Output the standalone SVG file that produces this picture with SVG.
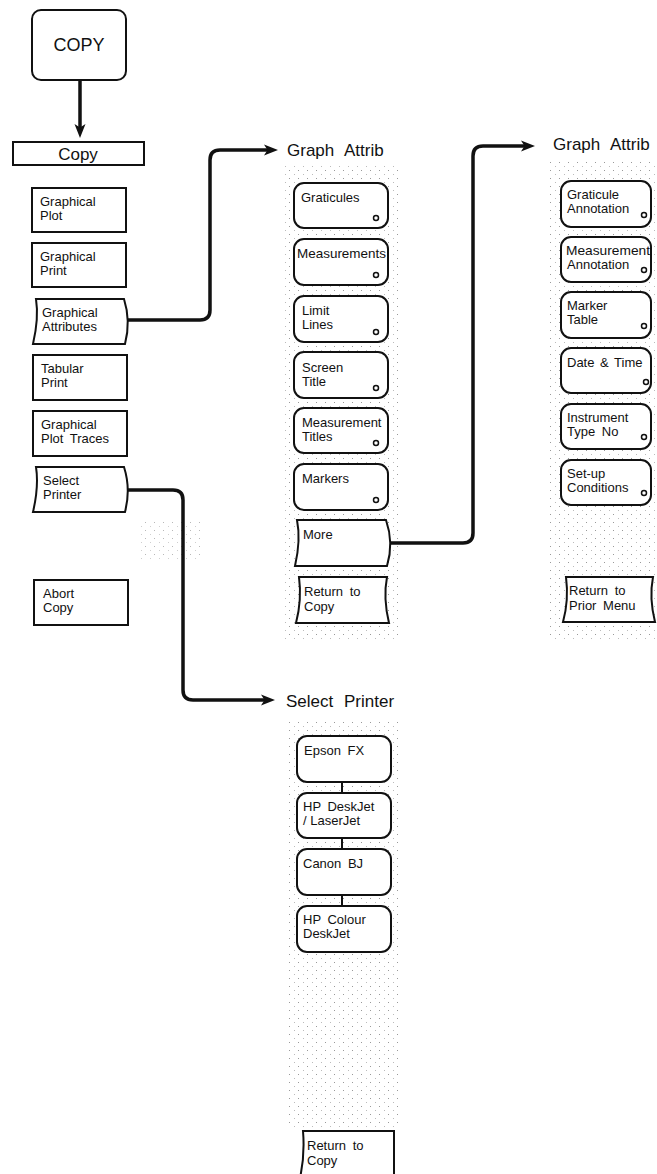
<svg xmlns="http://www.w3.org/2000/svg" width="657" height="1174" viewBox="0 0 657 1174">
<style>
text{font-family:"Liberation Sans",Arial,sans-serif;fill:#111}
.t{font-size:13px}
.h{font-size:17px;word-spacing:6px}
.box{fill:#fff;stroke:#111;stroke-width:2}
.dot{fill:#fff;stroke:#111;stroke-width:1.5}
.con{fill:none;stroke:#111;stroke-width:3.5;stroke-linejoin:round}
.link{stroke:#111;stroke-width:2}
.shade{fill:url(#stip)}
</style>
<defs>
<pattern id="stip" width="9" height="8" patternUnits="userSpaceOnUse">
<rect x="1" y="2" width="1" height="1" fill="#999"/>
<rect x="6" y="6" width="1" height="1" fill="#bbb"/>
</pattern>
<marker id="arr" markerUnits="userSpaceOnUse" markerWidth="16" markerHeight="12" refX="6" refY="6" orient="auto">
<path d="M0,0.5 L14,6 L0,11.5 L3.5,6 Z" fill="#111"/>
</marker>
</defs>
<rect width="657" height="1174" fill="#fff"/>
<g id="shading">
<rect class="shade" x="282" y="165" width="118" height="475"/>
<rect class="shade" x="548" y="160" width="109" height="480"/>
<rect class="shade" x="550" y="510" width="105" height="60" opacity="0.9"/>
<rect class="shade" x="286" y="722" width="114" height="405"/>
<rect class="shade" x="140" y="520" width="60" height="40" opacity="0.7"/>
</g>
<g id="connectors">
<path class="con" d="M80,80 V130" marker-end="url(#arr)"/>
<path class="con" d="M128,320 H200 Q210,320 210,310 V160 Q210,150 220,150 H270" marker-end="url(#arr)"/>
<path class="con" d="M391,543 H463 Q473,543 473,533 V156 Q473,146 483,146 H527" marker-end="url(#arr)"/>
<path class="con" d="M128,490 H173 Q183,490 183,500 V690 Q183,700 193,700 H267" marker-end="url(#arr)"/>
<line class="link" x1="342" y1="782" x2="342" y2="793"/>
<line class="link" x1="342" y1="838" x2="342" y2="849"/>
<line class="link" x1="342" y1="895" x2="342" y2="906"/>
</g>
<g id="n-copy-key"><rect class="box" x="32" y="10" width="94" height="70" rx="9"/><text x="79" y="51" font-size="18" text-anchor="middle">COPY</text></g>
<g id="n-copy-menu"><rect class="box" x="13" y="142" width="131" height="23"/><text x="78" y="160" font-size="17" text-anchor="middle">Copy</text></g>
<g id="n-graphical-plot"><rect class="box" x="32" y="188" width="94" height="44"/><text class="t" x="40" y="206">Graphical</text><text class="t" x="40" y="220">Plot</text></g>
<g id="n-graphical-print"><rect class="box" x="32" y="243" width="94" height="44"/><text class="t" x="40" y="261">Graphical</text><text class="t" x="40" y="275">Print</text></g>
<g id="n-graphical-attributes"><path class="box" d="M36,299 H124 Q131,321 125,344 H33 Q39,318 36,299 Z"/><text class="t" x="42" y="317">Graphical</text><text class="t" x="42" y="331">Attributes</text></g>
<g id="n-tabular-print"><rect class="box" x="33" y="355" width="94" height="45"/><text class="t" x="41" y="373">Tabular</text><text class="t" x="41" y="387">Print</text></g>
<g id="n-graphical-plot-traces"><rect class="box" x="33" y="411" width="94" height="45"/><text class="t" x="41" y="429">Graphical</text><text class="t" x="41" y="443" word-spacing="3">Plot Traces</text></g>
<g id="n-select-printer"><path class="box" d="M36,467 H124 Q131,489 125,512 H33 Q39,486 36,467 Z"/><text class="t" x="43" y="485">Select</text><text class="t" x="43" y="499">Printer</text></g>
<g id="n-abort-copy"><rect class="box" x="34" y="580" width="94" height="45"/><text class="t" x="43" y="598">Abort</text><text class="t" x="43" y="612">Copy</text></g>

<text class="h" x="287" y="156">Graph Attrib</text>
<g id="n-graticules"><rect class="box" x="294" y="183" width="94" height="45" rx="10"/><text class="t" x="301" y="202">Graticules</text><circle class="dot" cx="376" cy="218" r="2.5"/></g>
<g id="n-measurements"><rect class="box" x="294" y="239" width="94" height="46" rx="10"/><text class="t" x="297" y="258" textLength="89" lengthAdjust="spacingAndGlyphs">Measurements</text><circle class="dot" cx="376" cy="275" r="2.5"/></g>
<g id="n-limit-lines"><rect class="box" x="294" y="296" width="94" height="46" rx="10"/><text class="t" x="302" y="315">Limit</text><text class="t" x="302" y="329">Lines</text><circle class="dot" cx="376" cy="332" r="2.5"/></g>
<g id="n-screen-title"><rect class="box" x="294" y="352" width="94" height="46" rx="10"/><text class="t" x="302" y="372">Screen</text><text class="t" x="302" y="386">Title</text><circle class="dot" cx="376" cy="388" r="2.5"/></g>
<g id="n-measurement-titles"><rect class="box" x="294" y="408" width="94" height="45" rx="10"/><text class="t" x="302" y="427">Measurement</text><text class="t" x="302" y="441">Titles</text><circle class="dot" cx="376" cy="443" r="2.5"/></g>
<g id="n-markers"><rect class="box" x="294" y="464" width="94" height="46" rx="10"/><text class="t" x="302" y="483">Markers</text><circle class="dot" cx="376" cy="500" r="2.5"/></g>
<g id="n-more"><path class="box" d="M297,520 H386 Q394,543 387,566 H295 Q301,540 297,520 Z"/><text class="t" x="303" y="539">More</text></g>
<g id="n-return-copy-1"><path class="box" d="M299,577 H387 Q383,598 389,623 H296 Q302,600 299,577 Z"/><text class="t" x="304" y="596" word-spacing="3">Return to</text><text class="t" x="304" y="611">Copy</text></g>

<text class="h" x="553" y="150">Graph Attrib</text>
<g id="n-graticule-annotation"><rect class="box" x="561" y="181" width="90" height="46" rx="10"/><text class="t" x="567" y="199">Graticule</text><text class="t" x="567" y="213">Annotation</text><circle class="dot" cx="644" cy="215" r="2.5"/></g>
<g id="n-measurement-annotation"><rect class="box" x="561" y="237" width="90" height="45" rx="10"/><text class="t" x="566" y="255" textLength="84" lengthAdjust="spacingAndGlyphs">Measurement</text><text class="t" x="567" y="269">Annotation</text><circle class="dot" cx="644" cy="270" r="2.5"/></g>
<g id="n-marker-table"><rect class="box" x="561" y="292" width="90" height="46" rx="10"/><text class="t" x="567" y="310">Marker</text><text class="t" x="567" y="324">Table</text><circle class="dot" cx="644" cy="326" r="2.5"/></g>
<g id="n-date-time"><rect class="box" x="561" y="348" width="90" height="45" rx="10"/><text class="t" x="567" y="367" word-spacing="2">Date &amp; Time</text><circle class="dot" cx="646" cy="382" r="2.5"/></g>
<g id="n-instrument-type"><rect class="box" x="561" y="404" width="90" height="45" rx="10"/><text class="t" x="567" y="422">Instrument</text><text class="t" x="567" y="436" word-spacing="3">Type No</text><circle class="dot" cx="644" cy="437" r="2.5"/></g>
<g id="n-setup-conditions"><rect class="box" x="561" y="460" width="90" height="45" rx="10"/><text class="t" x="567" y="478">Set-up</text><text class="t" x="567" y="492">Conditions</text><circle class="dot" cx="644" cy="493" r="2.5"/></g>
<g id="n-return-prior"><path class="box" d="M566,577 H653 Q649,598 655,622 H563 Q569,600 566,577 Z"/><text class="t" x="569" y="595" word-spacing="3">Return to</text><text class="t" x="569" y="610" word-spacing="3">Prior Menu</text></g>

<text class="h" x="286" y="707">Select Printer</text>
<g id="n-epson"><rect class="box" x="297" y="736" width="94" height="46" rx="10"/><text class="t" x="304" y="755" word-spacing="3">Epson FX</text></g>
<g id="n-hp-deskjet"><rect class="box" x="297" y="793" width="94" height="45" rx="10"/><text class="t" x="303" y="811" word-spacing="3">HP DeskJet</text><text class="t" x="303" y="825">/ LaserJet</text></g>
<g id="n-canon"><rect class="box" x="297" y="849" width="94" height="46" rx="10"/><text class="t" x="303" y="868" word-spacing="3">Canon BJ</text></g>
<g id="n-hp-colour"><rect class="box" x="297" y="906" width="94" height="46" rx="10"/><text class="t" x="303" y="924" word-spacing="3">HP Colour</text><text class="t" x="303" y="938">DeskJet</text></g>
<g id="n-return-copy-2"><path class="box" d="M303,1131 H394 V1178 H300 Q305,1155 303,1131 Z"/><text class="t" x="307" y="1150" word-spacing="3">Return to</text><text class="t" x="307" y="1165">Copy</text></g>
</svg>
